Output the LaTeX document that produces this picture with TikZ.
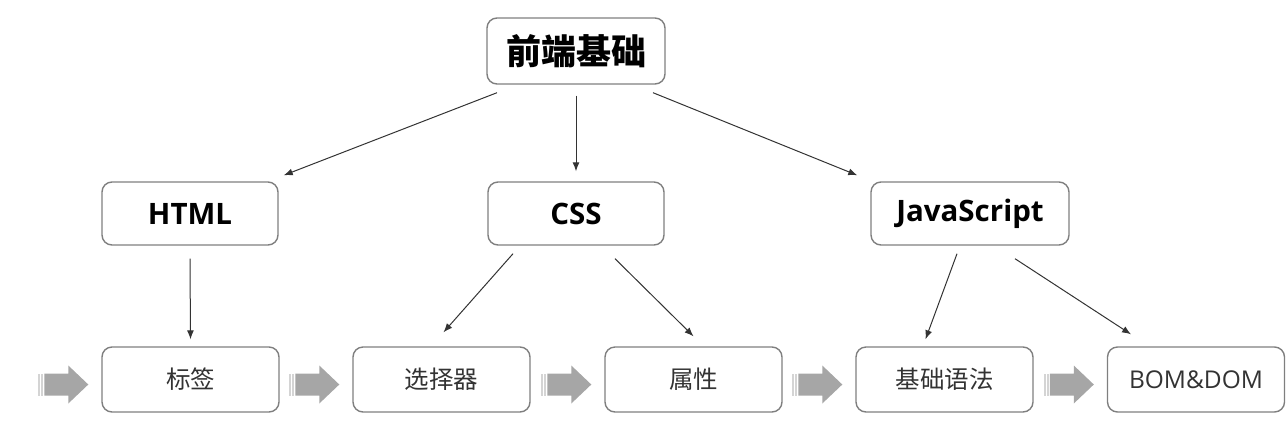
\documentclass[tikz,border=0pt]{standalone}
\usepackage{fontspec}
\setmainfont{Open Sans}
\newfontfamily\cjk{Noto Sans CJK SC}
\usetikzlibrary{arrows.meta}
\definecolor{boxgray}{HTML}{7F7F7F}
\definecolor{linegray}{HTML}{333333}
\definecolor{fatgray}{HTML}{A6A6A6}
\definecolor{stripegray}{HTML}{D4D4D4}

\begin{document}
\begin{tikzpicture}[x=1pt,y=1pt]
            \tikzstyle{every node}+=[inner sep=0pt]
            \tikzstyle{topbox}=[draw=boxgray, line width=1.4pt, rounded corners=10pt, minimum width=178pt, minimum height=66pt, font=\cjk\bfseries\fontsize{35}{40}\selectfont]
            \tikzstyle{midbox}=[draw=boxgray, line width=1.4pt, rounded corners=10pt, minimum width=176pt, minimum height=63pt, font=\bfseries\fontsize{29.5}{34}\selectfont]
            \tikzstyle{lowbox}=[draw=boxgray, line width=1.4pt, rounded corners=10pt, minimum width=177pt, minimum height=65pt, text=linegray, font=\fontsize{24.5}{29}\selectfont]
            \tikzstyle{link}=[draw=linegray, line width=1pt, -{Latex[length=9pt,width=7pt]}]
            \useasboundingbox (0,0) rectangle (1287,-440);
            \node [topbox] (base) at (576,-51) {前端基础};
            \node [midbox] (html) at (190,-213.5) {HTML};
            \node [midbox] (css) at (576,-213.5) {CSS};
            \node [midbox, minimum width=198pt] (js) at (970,-213.5) {JavaScript};
            \node [lowbox] (tag) at (190.5,-379.5) {\cjk 标签};
            \node [lowbox] (sel) at (441.5,-379.5) {\cjk 选择器};
            \node [lowbox] (attr) at (693.5,-379.5) {\cjk 属性};
            \node [lowbox] (syn) at (944.5,-379.5) {\cjk 基础语法};
            \node [lowbox] (bom) at (1196,-379.5) {BOM\&DOM};
            \draw [link] ([shift={(-79,-8)}]base.south) -- ([shift={(5,6)}]html.north east);
            \draw [link] ([shift={(0,-11)}]base.south) -- ([shift={(0,10)}]css.north);
            \draw [link] ([shift={(77,-8)}]base.south) -- ([shift={(-13,6)}]js.north west);
            \draw [link] ([shift={(0,-13)}]html.south) -- ([shift={(0,7)}]tag.north);
            \draw [link] ([shift={(-63,-8)}]css.south) -- ([shift={(2,14)}]sel.north);
            \draw [link] ([shift={(39,-13)}]css.south) -- ([shift={(0,10)}]attr.north);
            \draw [link] ([shift={(-13,-8)}]js.south) -- ([shift={(-19,7)}]syn.north);
            \draw [link] ([shift={(45,-13)}]js.south) -- ([shift={(-65,12)}]bom.north);
            \foreach \n in {tag,sel,attr,syn,bom} {
                \fill [fatgray] ([shift={(-13,-5)}]\n.west) -- ++(-20,19) -- ++(0,-8) -- ++(-24,0) -- ++(0,-22) -- ++(24,0) -- ++(0,-8) -- cycle;
                \fill [stripegray] ([shift={(-63,-16)}]\n.west) rectangle ++(2,22);
                \fill [stripegray] ([shift={(-60,-16)}]\n.west) rectangle ++(2,22);
            }
        \end{tikzpicture}
\end{document}
